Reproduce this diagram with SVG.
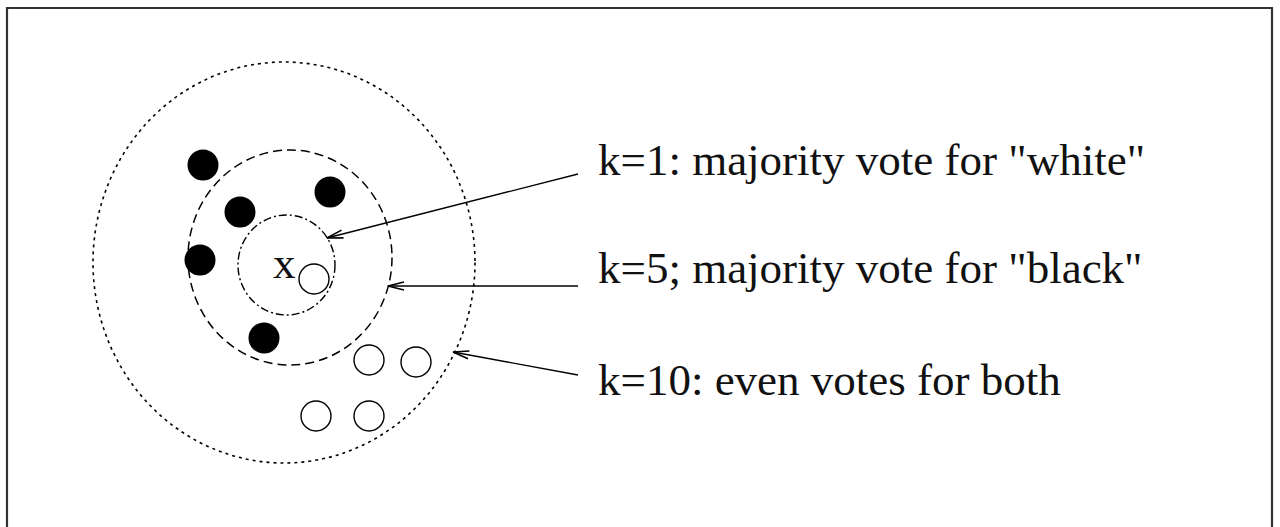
<svg xmlns="http://www.w3.org/2000/svg" width="1280" height="527" viewBox="0 0 1280 527">
<defs>
<style>
.lbl{font-family:"Liberation Serif","Times New Roman",serif;font-size:45px;fill:#111}
.blk{fill:#000}
.wht{fill:#fff;stroke:#000;stroke-width:1.4}
.conn{stroke:#000;stroke-width:1.4;fill:none;marker-end:url(#arr)}
</style>
<marker id="arr" markerUnits="userSpaceOnUse" markerWidth="30" markerHeight="20" refX="0" refY="0" viewBox="-20 -10 30 20" orient="auto" overflow="visible">
<path d="M-16,-4 L0,0 L-16,4" fill="none" stroke="#000" stroke-width="1.6"/>
</marker>
</defs>
<rect width="1280" height="527" fill="#fff"/>
<path d="M7,527 L7,8 L1272,8 L1272,527" fill="none" stroke="#333" stroke-width="2.2"/>
<g id="region-k10"><ellipse cx="284" cy="262.5" rx="191" ry="200.5" fill="none" stroke="#000" stroke-width="1.6" stroke-dasharray="3 4"/></g>
<g id="region-k5"><ellipse cx="290" cy="257.5" rx="102" ry="107.5" fill="none" stroke="#000" stroke-width="1.5" stroke-dasharray="9 5"/></g>
<g id="region-k1"><ellipse cx="286.5" cy="265" rx="48.5" ry="50" fill="none" stroke="#000" stroke-width="1.4" stroke-dasharray="8 3 2 3"/></g>
<g id="black-points">
<circle class="blk" cx="203" cy="165" r="15.5"/>
<circle class="blk" cx="240" cy="212" r="15.5"/>
<circle class="blk" cx="330" cy="192" r="15.5"/>
<circle class="blk" cx="200" cy="260" r="15.5"/>
<circle class="blk" cx="264" cy="338" r="15.5"/>
</g>
<g id="white-points">
<circle class="wht" cx="314" cy="279" r="15"/>
<circle class="wht" cx="369" cy="360" r="15"/>
<circle class="wht" cx="416" cy="362" r="15"/>
<circle class="wht" cx="316" cy="416" r="15"/>
<circle class="wht" cx="369" cy="416" r="15"/>
</g>
<g id="query"><text class="lbl" x="273" y="278">x</text></g>
<g id="connectors">
<line class="conn" x1="578" y1="174" x2="327" y2="238"/>
<line class="conn" x1="578" y1="286" x2="388" y2="286"/>
<line class="conn" x1="578" y1="375" x2="453" y2="352"/>
</g>
<g id="label-k1"><text class="lbl" x="598" y="175">k=1: majority vote for "white"</text></g>
<g id="label-k5"><text class="lbl" x="598" y="283">k=5; majority vote for "black"</text></g>
<g id="label-k10"><text class="lbl" x="598" y="395">k=10: even votes for both</text></g>
</svg>
